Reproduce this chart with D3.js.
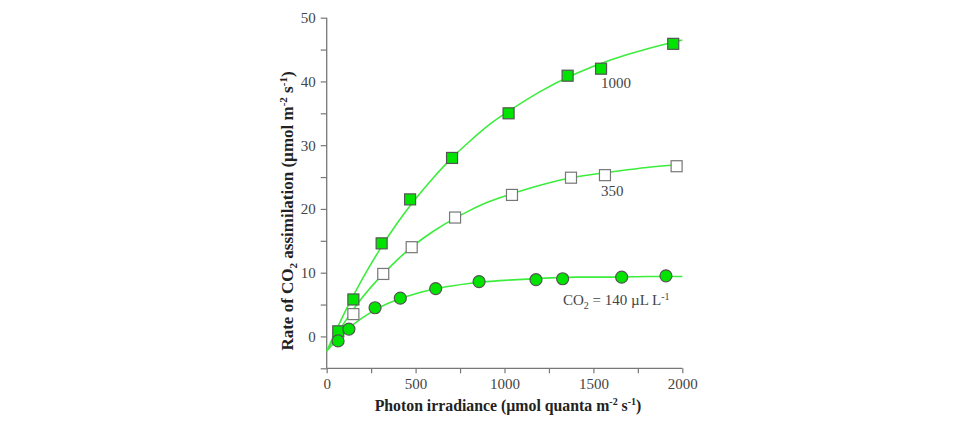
<!DOCTYPE html>
<html>
<head>
<meta charset="utf-8">
<script src="https://cdn.jsdelivr.net/npm/d3@7/dist/d3.min.js"></script>
<style>
  html, body { margin: 0; padding: 0; background: #fff; }
  svg text { font-family: "Liberation Serif", "DejaVu Serif", serif; }
</style>
</head>
<body>
<svg id="chart" width="960" height="428"></svg>
<script>
// Measured data points (photon irradiance, assimilation rate)
const co2_1000_x = [65, 150, 309, 469, 705, 1023, 1355, 1543, 1949];
const co2_1000_y = [0.8, 5.8, 14.6, 21.5, 28.0, 35.0, 40.9, 42.0, 45.9];
const co2_350_x = [150, 318, 478, 722, 1042, 1374, 1565, 1968];
const co2_350_y = [3.5, 9.8, 14.0, 18.65, 22.2, 24.9, 25.3, 26.7];
const co2_140_x = [64, 125, 272, 414, 613, 857, 1177, 1327, 1659, 1908];
const co2_140_y = [-0.7, 1.15, 4.5, 6.0, 7.5, 8.6, 8.9, 9.05, 9.3, 9.5];

// Fitted curves
const curveX = [0, 100, 200, 300, 400, 500, 600, 700, 800, 900, 1000, 1200, 1400, 1600, 1800, 2000];
const fit_1000 = [-2.3, 3.7, 9.0, 13.7, 17.9, 21.6, 24.9, 27.9, 30.5, 32.9, 34.9, 38.4, 41.2, 43.4, 45.1, 46.5];
const fit_350 = [-2.3, 2.2, 6.1, 9.3, 12.1, 14.5, 16.5, 18.2, 19.7, 21.0, 22.0, 23.7, 25.0, 25.8, 26.5, 27.0];
const fit_140 = [-2.3, 0.7, 2.9, 4.6, 5.8, 6.7, 7.4, 7.9, 8.3, 8.6, 8.8, 9.1, 9.3, 9.3, 9.4, 9.4];

const xTickLabels = [0, 500, 1000, 1500, 2000];
const yTickLabels = [0, 10, 20, 30, 40, 50];

const svg = d3.select("#chart");
const x = d3.scaleLinear().domain([0, 2000]).range([326.7, 682.3]);
const y = d3.scaleLinear().domain([-5, 50]).range([368.3, 17.7]);

const axisColor = "#777";
const textColor = "#444";
const lineColor = "#3ded3d";
const fillGreen = "#00e400";
const markStroke = "#555";

// Y axis
const yAxis = d3.axisLeft(y)
  .tickValues(d3.range(-5, 51, 5))
  .tickSize(6)
  .tickFormat(d => yTickLabels.includes(d) ? d : "");
const gy = svg.append("g").attr("transform", `translate(${x(0)},0)`).call(yAxis);
gy.select(".domain").attr("d", `M0,${y(50)}V${y(-5)}`).attr("stroke", axisColor).attr("stroke-width", 1.3);
gy.selectAll(".tick line").attr("stroke", axisColor).attr("stroke-width", 1.2);
gy.selectAll(".tick text").attr("fill", textColor).attr("font-size", 15).attr("x", -11)
  .style("font-family", "Liberation Serif, serif");

// X axis
const xAxis = d3.axisBottom(x)
  .tickValues(d3.range(0, 2001, 250))
  .tickSize(5)
  .tickFormat(d => xTickLabels.includes(d) ? d : "");
const gx = svg.append("g").attr("transform", `translate(0,${y(-5)})`).call(xAxis);
gx.select(".domain").attr("d", `M${x(0)},0H${x(2000)}`).attr("stroke", axisColor).attr("stroke-width", 1.3);
gx.selectAll(".tick line").attr("stroke", axisColor).attr("stroke-width", 1.2);
gx.selectAll(".tick text").attr("fill", textColor).attr("font-size", 15).attr("y", 10)
  .style("font-family", "Liberation Serif, serif");

// Curves
const line = d3.line().x(d => x(d[0])).y(d => y(d[1])).curve(d3.curveNatural);
[fit_1000, fit_350, fit_140].forEach(f => {
  svg.append("path")
    .datum(curveX.map((v, i) => [v, f[i]]))
    .attr("d", line)
    .attr("fill", "none")
    .attr("stroke", lineColor)
    .attr("stroke-width", 1.6);
});

// Markers
const sq = 11;
svg.append("g").selectAll("rect")
  .data(co2_350_x.map((v, i) => [v, co2_350_y[i]]))
  .join("rect")
  .attr("x", d => x(d[0]) - sq / 2).attr("y", d => y(d[1]) - sq / 2)
  .attr("width", sq).attr("height", sq)
  .attr("fill", "#fff").attr("stroke", "#777").attr("stroke-width", 1.2);

svg.append("g").selectAll("rect")
  .data(co2_1000_x.map((v, i) => [v, co2_1000_y[i]]))
  .join("rect")
  .attr("x", d => x(d[0]) - sq / 2).attr("y", d => y(d[1]) - sq / 2)
  .attr("width", sq).attr("height", sq)
  .attr("fill", fillGreen).attr("stroke", markStroke).attr("stroke-width", 1.2);

svg.append("g").selectAll("circle")
  .data(co2_140_x.map((v, i) => [v, co2_140_y[i]]))
  .join("circle")
  .attr("cx", d => x(d[0])).attr("cy", d => y(d[1]))
  .attr("r", 6)
  .attr("fill", fillGreen).attr("stroke", markStroke).attr("stroke-width", 1.2);

// Series labels
const lab = svg.append("g").attr("fill", textColor).attr("font-size", 15);
lab.append("text").attr("x", 601).attr("y", 88).text("1000");
lab.append("text").attr("x", 601).attr("y", 196).text("350");
const co2lab = lab.append("text").attr("x", 563).attr("y", 305);
co2lab.append("tspan").text("CO");
co2lab.append("tspan").attr("font-size", 10).attr("dy", 4).text("2");
co2lab.append("tspan").attr("dy", -4).text(" = 140 µL L");
co2lab.append("tspan").attr("font-size", 10).attr("dy", -5).text("-1");

// Axis titles
const xt = svg.append("text")
  .attr("x", 508).attr("y", 411)
  .attr("text-anchor", "middle")
  .attr("font-size", 15.8).attr("font-weight", "bold").attr("fill", "#222");
xt.append("tspan").text("Photon irradiance (µmol quanta m");
xt.append("tspan").attr("font-size", 10).attr("dy", -6).text("-2");
xt.append("tspan").attr("dy", 6).text(" s");
xt.append("tspan").attr("font-size", 10).attr("dy", -6).text("-1");
xt.append("tspan").attr("dy", 6).text(")");

const yt = svg.append("text")
  .attr("transform", "translate(293,211) rotate(-90)")
  .attr("text-anchor", "middle")
  .attr("font-size", 17).attr("font-weight", "bold").attr("fill", "#222");
yt.append("tspan").text("Rate of CO");
yt.append("tspan").attr("font-size", 11).attr("dy", 4).text("2");
yt.append("tspan").attr("dy", -4).text(" assimilation (µmol m");
yt.append("tspan").attr("font-size", 11).attr("dy", -6).text("-2");
yt.append("tspan").attr("dy", 6).text(" s");
yt.append("tspan").attr("font-size", 11).attr("dy", -6).text("-1");
yt.append("tspan").attr("dy", 6).text(")");
</script>
</body>
</html>
